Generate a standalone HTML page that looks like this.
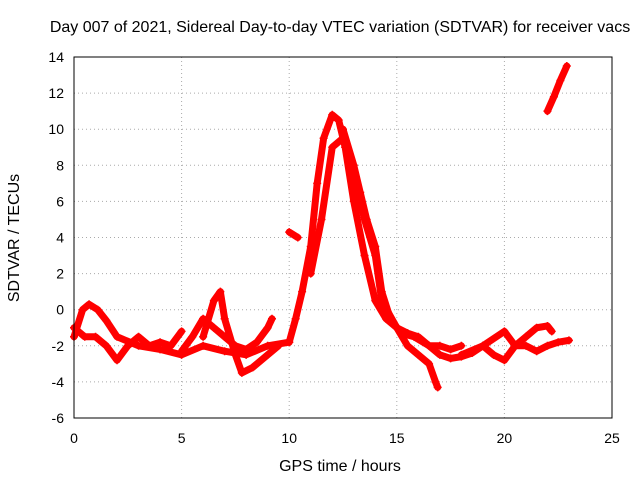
<!DOCTYPE html>
<html><head><meta charset="utf-8"><style>
body{margin:0;background:#fff}
svg text{font-family:"Liberation Sans",sans-serif;font-size:14px;fill:#000}
svg text.big{font-size:16px}
</style></head><body>
<svg id="chart" width="640" height="480">
<text class="big" x="340" y="32" text-anchor="middle">Day 007 of 2021, Sidereal Day-to-day VTEC variation (SDTVAR) for receiver vacs</text>
<text class="big" x="340" y="471" text-anchor="middle">GPS time / hours</text>
<text class="big" transform="translate(19,238) rotate(-90)" text-anchor="middle">SDTVAR / TECUs</text>
<g id="grid"></g><g id="marks"></g>
<rect x="74" y="57" width="538" height="361" fill="none" stroke="#000"/>
</svg>
<script>
const xTicks=[0,5,10,15,20,25];
const yTicks=[-6,-4,-2,0,2,4,6,8,10,12,14];
const trackA=[[0,-1.5],[0.4,0],[0.7,0.3],[1.1,0],[1.5,-0.6],[2,-1.5],[3,-2],[4,-2.2],[5,-2.5],[6,-2],[7,-2.3],[8,-2.5],[9,-2],[10,-1.8]];
const trackB=[[0,-1],[0.5,-1.5],[1,-1.5],[1.5,-2],[2,-2.8],[2.5,-2],[3,-1.5],[3.5,-2],[4,-1.8],[4.5,-2],[5,-1.2]];
const trackC=[[6,-1.5],[6.5,0.5],[6.8,1],[7,-0.5],[7.5,-2.5],[7.8,-3.5],[8.3,-3.2],[9,-2.5],[9.5,-2]];
const trackD=[[5,-2.3],[5.5,-1.5],[6,-0.5],[6.5,-1],[7,-1.5],[7.5,-2],[8,-2.2],[8.5,-1.8],[9,-1],[9.2,-0.5]];
const trackE=[[10,-1.8],[10.3,-0.5],[10.6,1],[11,3.5],[11.3,7],[11.6,9.5],[12,10.8],[12.3,10.5],[12.6,9],[13,6],[13.5,3],[14,0.5],[14.5,-0.5],[15,-1],[15.5,-1.3],[16,-1.5],[16.5,-2],[17,-2],[17.5,-2.2],[18,-2]];
const trackF=[[10,4.3],[10.4,4]];
const trackG=[[11,2],[11.5,5],[12,9],[12.5,9.5],[13,7.5],[13.5,5],[14,3],[14.3,0.5],[15,-1],[15.5,-2],[16,-2.5],[16.5,-3],[16.8,-4],[16.9,-4.3]];
const trackH=[[12.5,10],[13,8],[13.3,6.5],[13.6,5],[14,3.5],[14.3,1],[14.7,-0.5],[15.2,-1.3],[15.8,-1.5],[16.5,-2],[17,-2.5],[17.5,-2.7],[18,-2.6],[18.5,-2.4],[19,-2],[19.5,-2.5],[20,-2.8],[20.5,-2],[21,-2],[21.5,-2.3],[22,-2],[22.5,-1.8],[23,-1.7]];
const trackI=[[18,-2.5],[19,-2],[20,-1.2],[20.5,-2],[21,-1.5],[21.5,-1],[22,-0.9],[22.2,-1.2]];
const trackJ=[[22,11],[22.3,11.8],[22.6,12.7],[22.9,13.5]];
const tracks=[trackA,trackB,trackC,trackD,trackE,trackF,trackG,trackH,trackI,trackJ];
const X=v=>74+v*538/25, Y=v=>418-(v+6)*361/20;
const NS="http://www.w3.org/2000/svg";
const grid=document.getElementById('grid'),marks=document.getElementById('marks');
function mk(p,tag,a){const e=document.createElementNS(NS,tag);for(const k in a)e.setAttribute(k,a[k]);p.appendChild(e);return e;}
xTicks.forEach(t=>{
 const l=mk(grid,'line',{x1:X(t),x2:X(t),y1:57,y2:418,stroke:'#aaa','stroke-dasharray':'1,3'});
 
 
 const tx=mk(grid,'text',{x:X(t),y:443,'text-anchor':'middle'});tx.textContent=t;
 
 
});
yTicks.forEach(t=>{
 const l=mk(grid,'line',{x1:74,x2:612,y1:Y(t),y2:Y(t),stroke:'#aaa','stroke-dasharray':'1,3'});
 
 
 const tx=mk(grid,'text',{x:64,y:Y(t)+5,'text-anchor':'end'});tx.textContent=t;
 
 
});
tracks.forEach(tr=>{
 const g=mk(marks,'g',{});
 
 
 mk(g,'polyline',{points:tr.map(p=>X(p[0])+','+Y(p[1])).join(' '),fill:'none',stroke:'#f00','stroke-width':7,'stroke-linejoin':'round','stroke-linecap':'round'});
 tr.forEach(p=>{
  const x=X(p[0]),y=Y(p[1]);
  const m=mk(g,'path',{d:`M${x-4},${y}h8M${x},${y-4}v8`,stroke:'#f00','stroke-width':1.5});
  
  
 });
});
</script>
</body></html>
